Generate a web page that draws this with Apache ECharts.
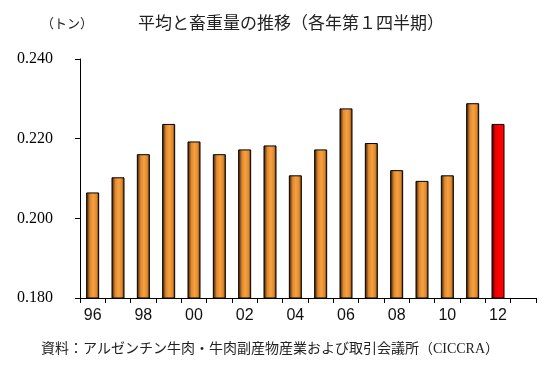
<!DOCTYPE html>
<html><head><meta charset="utf-8">
<script src="https://cdn.jsdelivr.net/npm/echarts@6/dist/echarts.min.js"></script>
<style>html,body{margin:0;padding:0;background:#fff}#c{width:551px;height:390px}</style>
</head><body><div id="c"></div>
<script>
const categories = ['96','97','98','99','00','01','02','03','04','05','06','07','08','09','10','11','12','13'];
const values = [0.2065,0.2103,0.2161,0.2237,0.2193,0.2161,0.2173,0.2183,0.2108,0.2173,0.2276,0.2189,0.2121,0.2094,0.2108,0.2289,0.2237,null];
const yTicks = [0.180,0.200,0.220,0.240];
const highlightIndex = 16;

const orangeGrad = new echarts.graphic.LinearGradient(0,0,1,0,[
  {offset:0,color:'#2a1200'},{offset:0.3,color:'#e08a30'},{offset:0.55,color:'#f6a040'},{offset:0.8,color:'#e08a30'},{offset:1,color:'#4a2200'}]);
const redGrad = new echarts.graphic.LinearGradient(0,0,1,0,[
  {offset:0,color:'#300000'},{offset:0.3,color:'#e80000'},{offset:0.6,color:'#ff0000'},{offset:1,color:'#ff0000'}]);

const serif = '"Liberation Serif","Noto Sans CJK JP",serif';
const chart = echarts.init(document.getElementById('c'));
chart.setOption({
  animation:false,
  grid:{left:80,right:15,top:59,bottom:92},
  title:[
    {text:'平均と畜重量の推移（各年第１四半期）',left:286,top:11,textAlign:'center',textStyle:{fontFamily:serif,fontSize:17,fontWeight:'normal',color:'#222'}},
    {text:'（トン）',left:62,top:13,textAlign:'center',textStyle:{fontFamily:serif,fontSize:13,fontWeight:'normal',color:'#222'}},
    {text:'資料：アルゼンチン牛肉・牛肉副産物産業および取引会議所（CICCRA）',left:265,top:337,textAlign:'center',textStyle:{fontFamily:serif,fontSize:14,fontWeight:'normal',color:'#222'}}
  ],
  xAxis:{type:'category',data:categories,
    axisLine:{lineStyle:{color:'#000',width:1}},
    axisTick:{show:true,alignWithLabel:false,interval:0,length:5,lineStyle:{color:'#000'}},
    axisLabel:{interval:1,color:'#111',fontFamily:'"Liberation Sans",Arial,sans-serif',fontSize:16,margin:10}
  },
  yAxis:{type:'value',min:yTicks[0],max:yTicks[yTicks.length-1],interval:0.02,
    axisLine:{show:true,lineStyle:{color:'#000',width:1}},
    axisTick:{show:true,length:5,lineStyle:{color:'#000'}},
    splitLine:{show:false},
    axisLabel:{color:'#000',fontFamily:serif,fontSize:16,margin:27,formatter:v=>v.toFixed(3)}
  },
  series:[{type:'bar',barWidth:13,
    data:values.map((v,i)=>({value:v,itemStyle:{color:i===highlightIndex?redGrad:orangeGrad}})),
    itemStyle:{borderColor:'#000',borderWidth:1}
  }]
});
</script></body></html>
